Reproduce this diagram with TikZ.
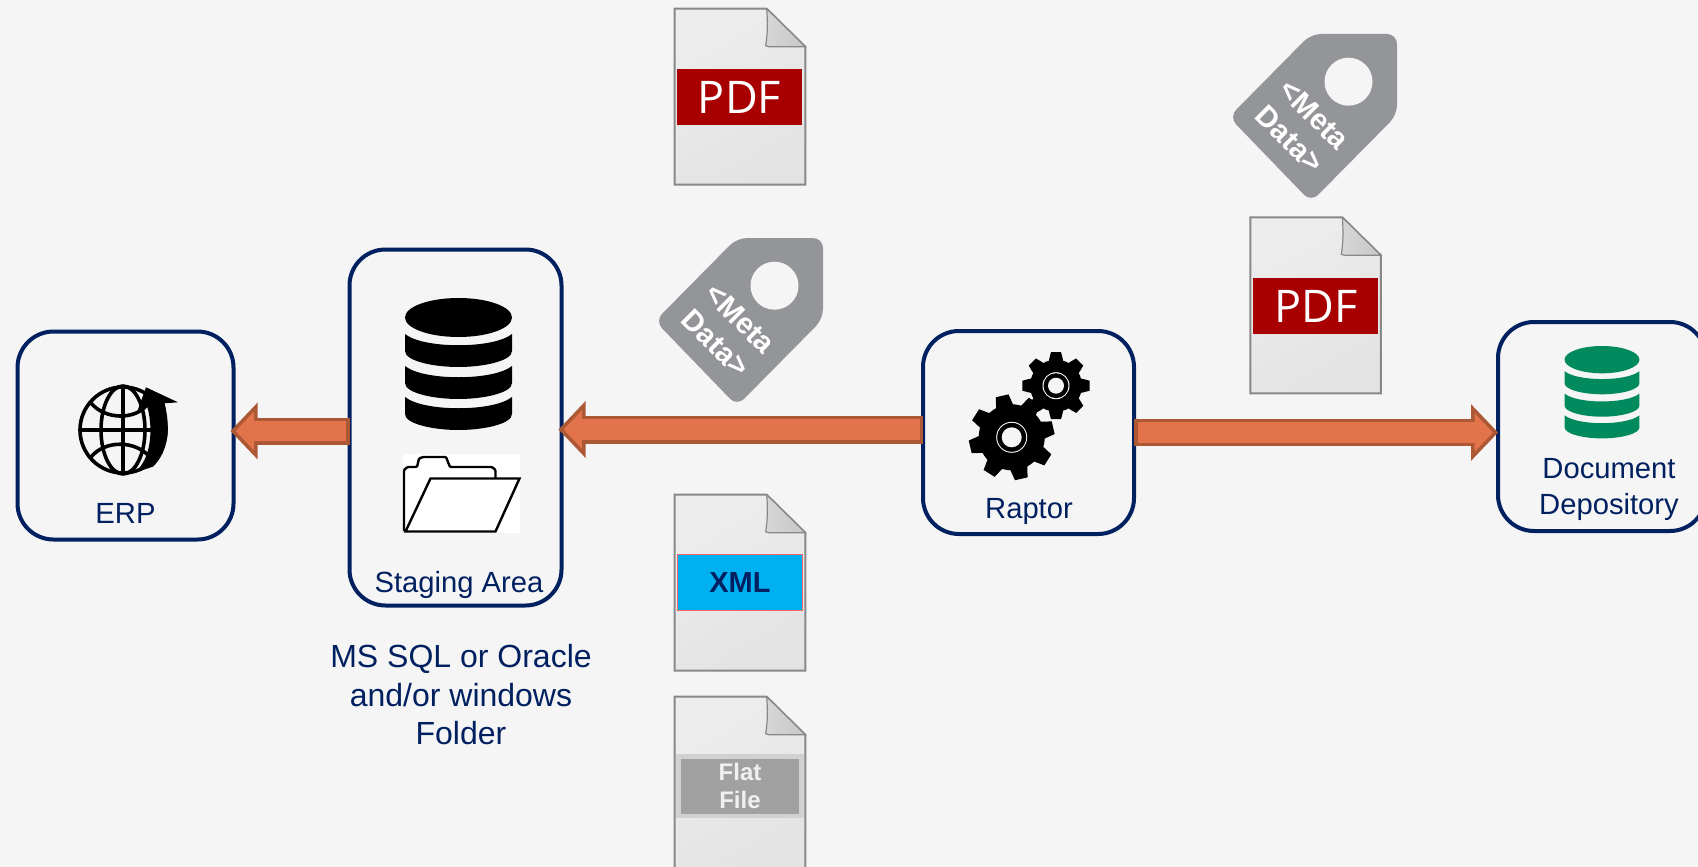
\documentclass[tikz,border=0pt]{standalone}
\usepackage{fontspec}
\setmainfont{Liberation Sans}
\newfontfamily\pdffont{Open Sans}
\usetikzlibrary{arrows.meta,positioning}
\definecolor{bggray}{HTML}{F5F5F5}
\definecolor{navyline}{HTML}{002060}
\definecolor{floworange}{HTML}{E2734A}
\definecolor{flowedge}{HTML}{AC5835}
\definecolor{taggray}{HTML}{939598}
\definecolor{dbgreen}{HTML}{008A5E}
\definecolor{pdfred}{HTML}{A80000}
\definecolor{xmlblue}{HTML}{00B0F0}
\definecolor{docedge}{HTML}{888888}
\tikzset{
  boxnode/.style={draw=navyline, line width=4pt, rounded corners=36pt, outer sep=0pt, inner sep=0pt},
  labelnode/.style={text=navyline, inner sep=0pt, align=center, font=\fontsize{29.2}{36}\selectfont},
  notenode/.style={text=navyline, inner sep=0pt, align=center, font=\fontsize{32}{38.5}\selectfont},
  bandnode/.style={minimum width=125pt, minimum height=56.3pt, inner sep=0pt, outer sep=0pt, align=center},
  tagtext/.style={text=white, inner sep=0pt, align=center, rotate=-45, font=\fontsize{29.5}{35}\selectfont\bfseries},
  flowarrow/.style={draw=flowedge, line width=27pt,
    -{Triangle[length=27pt, width=56pt, line width=3.5pt, fill=floworange]},
    postaction={draw=floworange, line width=20.5pt, -, shorten >=20pt, shorten <=3.5pt}},
}
% document sheet with folded corner
\newcommand{\docicon}[2]{
  \begin{scope}[shift={(#1,#2)}]
    \shade[left color=white!93!black, right color=white!89!black, shading angle=30, draw=docedge, line width=2pt]
      (0,0) -- (92,0) -- (130.6,38) -- (130.6,176) -- (0,176) -- cycle;
    \shade[left color=white!84!black, middle color=white!98!black, right color=white!78!black, draw=docedge, line width=1.2pt]
      (92,0) -- (130.6,38) -- (94,38) -- (91,37) .. controls (93,25) and (93,12) .. (92,0);
  \end{scope}
}
% database stack, three bands under a lid
\newcommand{\dbicon}[4]{
  \begin{scope}[shift={(#1,#2)}, scale=#3]
    \fill[#4] (0,19.5) ellipse (53.5 and 19.5);
    \foreach \y in {36,68,99} {
      \fill[#4] (-53.5,\y) .. controls (-35,\y+15) and (35,\y+15) .. (53.5,\y) -- (53.5,\y+17)
        .. controls (53.5,\y+27) and (25,\y+33) .. (0,\y+33)
        .. controls (-25,\y+33) and (-53.5,\y+27) .. (-53.5,\y+17) -- cycle;
    }
  \end{scope}
}
% gear: center, body radius, tooth radius, tooth half width, angle offset, hole radius
\newcommand{\gearicon}[6]{
  \begin{scope}[shift={(#1,#2)}]
    \fill[black] (0,0) circle (#3);
    \foreach \a in {0,45,...,315} {
      \begin{scope}[rotate=\a+#5]
        \fill[black] (#3-3,-#4-1.5) -- (#3+2,-#4-0.5) -- (#3*1.29,-#4+1) -- (#3*1.29,#4-1) -- (#3+2,#4+0.5) -- (#3-3,#4+1.5) -- cycle;
      \end{scope}
    }
    \fill[white] (0,0) circle (#6+5.5);
    \fill[black] (0,0) circle (#6+4.5);
    \fill[bggray] (0,0) circle (#6);
  \end{scope}
}
% price tag shape
\newcommand{\tagicon}[2]{
  \begin{scope}[shift={(#1,#2)}]
    \fill[taggray, rounded corners=10pt] (-82,83) -- (0,0) -- (86,0) -- (86,81) -- (0,168) -- cycle;
    \fill[bggray] (37.5,47.7) circle (24);
  \end{scope}
}
\begin{document}
\begin{tikzpicture}[x=1pt, y=-1pt]
  \path[use as bounding box, fill=bggray] (0,0) rectangle (1698,867);

  % boxes
  \node[boxnode, minimum width=216pt, minimum height=208pt] (erp) at (125.5,435.5) {};
  \node[boxnode, minimum width=212pt, minimum height=356pt] (staging) at (455.5,427.5) {};
  \node[boxnode, minimum width=211pt, minimum height=203pt] (raptor) at (1028.5,432.5) {};
  \node[boxnode, minimum width=208pt, minimum height=209pt] (depository) at (1602,426.5) {};

  % flows
  \draw[flowarrow, shorten >=-3pt] ([yshift=4.5pt]erp.east -| staging.west) -- ([yshift=4.5pt]erp.east);
  \draw[flowarrow, line width=28pt, shorten >=-3pt] ([yshift=3pt]raptor.west) -- ([yshift=3pt]raptor.west -| staging.east);
  \draw[flowarrow] (raptor.east) -- (raptor.east -| depository.west);

  % erp globe
  \begin{scope}[line width=3.6pt]
    \draw (123,430) circle (43);
    \draw (123,386) -- (123,474);
    \draw (80,430) -- (166,430);
    \draw (123,430) ellipse (22 and 44);
    \draw (91,403) .. controls (105,420) and (135,420) .. (147,405);
    \draw (91,457) .. controls (105,440) and (135,440) .. (150,457);
  \end{scope}
  \fill (146,387.3) -- (178,402.3) -- (164.6,403.3) .. controls (170,425) and (170,450) .. (153,466.7)
    -- (133,473) .. controls (148,465) and (155,435) .. (147.3,406.7) -- (137.8,410) -- cycle;

  % staging icons
  \dbicon{458.5}{298}{1}{black}
  \fill[white] (402.6,454) rectangle (520,533);
  \draw[line width=2.4pt, fill=white, rounded corners=1pt] (404,531) -- (404,470) -- (407.5,467) -- (417,467) -- (419,458.5) -- (423,457)
    -- (446,457) -- (450,467) -- (492,467) -- (495.5,470) -- (495.5,478);
  \draw[line width=2.4pt, fill=white] (405.5,531.5) -- (430.5,478.5) -- (519.5,478.5) -- (495.5,531.5) -- cycle;

  % raptor gears
  \gearicon{1011.7}{437.3}{33}{7.5}{-32}{10}
  \gearicon{1056}{385.7}{26}{6}{0}{8}

  \dbicon{1602}{346}{0.7}{dbgreen}

  % documents and tags
  \docicon{674.7}{8.7}
  \docicon{1250.3}{217.3}
  \docicon{674.7}{494.7}
  \docicon{674.7}{696.7}
  \tagicon{737}{238}
  \tagicon{1311}{34}

  \node[bandnode, fill=pdfred, text=white, font=\fontsize{45}{50}\selectfont\pdffont] (pdftop) at (739.5,97) {PDF};
  \node[bandnode, fill=pdfred, text=white, font=\fontsize{45}{50}\selectfont\pdffont] (pdfright) at (1315.9,306) {PDF};
  \node[bandnode, fill=xmlblue, draw=red!60!white, line width=0.8pt, text=navyline, font=\fontsize{29}{34}\selectfont\bfseries] (xmlband) at (740,582.5) {XML};
  \node[bandnode, fill=white!63!black, draw=white!82!black, line width=4.5pt, minimum width=123pt, minimum height=59.5pt,
    text=white!94!black, font=\fontsize{24}{28.5}\selectfont\bfseries] (flatband) at (740,786) {Flat\\File};

  \node[tagtext] (tagleft) at (728,331) {<Meta\\Data>};
  \node[tagtext] (tagright) at (1302,127) {<Meta\\Data>};

  % labels
  \node[labelnode] (erplabel) at (125.5,513.5) {ERP};
  \node[labelnode] (staginglabel) at (459,585) {Staging Area};
  \node[labelnode] (raptorlabel) at (1029,511) {Raptor};
  \node[labelnode] (depositorylabel) at (1609,489) {Document\\Depository};
  \node[notenode] (stagingnote) at (461,695) {MS SQL or Oracle\\and/or windows\\Folder};
\end{tikzpicture}
\end{document}
